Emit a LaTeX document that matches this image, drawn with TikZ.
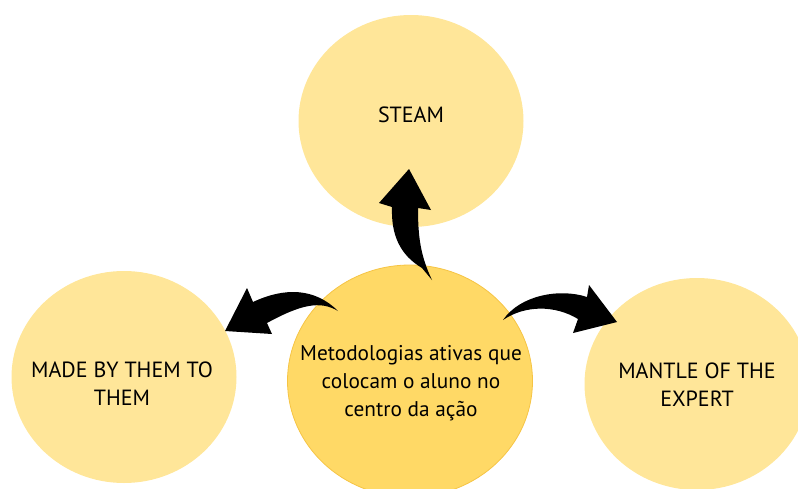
\documentclass[tikz,border=0pt]{standalone}
\usepackage{fontspec}
\setmainfont{PT Sans}
\usetikzlibrary{shapes.geometric}
\definecolor{outerY}{HTML}{FFE699}
\definecolor{innerY}{HTML}{FFD966}
\definecolor{innerB}{HTML}{F6C444}
\tikzset{
  bubble/.style={ellipse, fill=outerY, minimum width=225pt, minimum height=212pt, inner sep=0pt},
  hub/.style={ellipse, fill=innerY, draw=innerB, line width=0.8pt, minimum width=245pt, minimum height=232pt, inner sep=0pt},
  caption/.style={align=center, inner sep=0pt, font=\fontsize{22}{28}\selectfont},
  blockarrow/.style={fill=black}
}
\begin{document}
\begin{tikzpicture}[x=1pt,y=-1pt]
\useasboundingbox (0,0) rectangle (798,488);
\node[bubble] (steam) at (411,121) {};
\node[bubble] (made) at (124,377) {};
\node[bubble] (mantle) at (697,384) {};
\node[hub] (hub) at (410,381) {};
\node[caption] (steamT) at (411,115) {STEAM};
\node[caption] (madeT) at (122,384) {MADE BY THEM TO\\THEM};
\node[caption] (mantleT) at (697,385) {MANTLE OF THE\\EXPERT};
\node[caption, font=\fontsize{21.3}{28}\selectfont] (hubT) at (411,383) {Metodologias ativas que\\colocam o aluno no\\centro da ação};
% top arrow
\fill[blockarrow] (432,280) .. controls (420,255) and (418,235) .. (418,208)
  -- (431,210) -- (409,169) -- (379,203) -- (392,207)
  .. controls (391,235) and (400,255) .. (422,268) -- cycle;
% left arrow
\fill[blockarrow] (338,311) .. controls (320,300) and (300,305) .. (267,323)
  -- (272,334) -- (225,331) -- (247,288) -- (253,302)
  .. controls (285,287) and (315,288) .. (338,311) -- cycle;
% right arrow
\fill[blockarrow] (503,320) .. controls (520,295) and (560,288) .. (587,297)
  -- (589,285) -- (617,322) -- (573,333) -- (578,319)
  .. controls (555,305) and (525,305) .. (503,320) -- cycle;
\end{tikzpicture}
\end{document}
